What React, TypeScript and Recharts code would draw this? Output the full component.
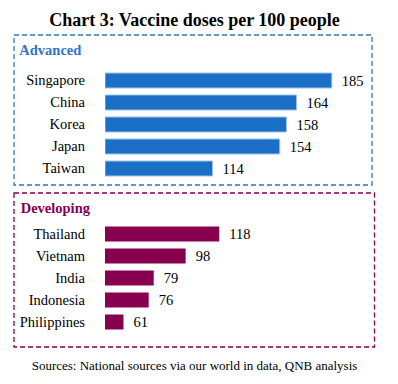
import { Bar, BarChart, LabelList, XAxis, YAxis } from "recharts";

const advancedCountries = ["Singapore", "China", "Korea", "Japan", "Taiwan"];
const advancedDoses = [185, 164, 158, 154, 114];

const developingCountries = ["Thailand", "Vietnam", "India", "Indonesia", "Philippines"];
const developingDoses = [118, 98, 79, 76, 61];

const axisDomain = [50, 200];

const SERIF = "'Liberation Serif', 'Times New Roman', serif";
const BLUE = "#1b6fc6";
const PURPLE = "#870050";

const labelStyle = { fontFamily: SERIF, fontSize: 14.5 };

function CountryTick(props: any) {
  const { x, y, payload } = props;
  return (
    <text x={x - 12} y={y} dy="0.35em" textAnchor="end" fill="#000" style={labelStyle}>
      {payload.value}
    </text>
  );
}

function ValueLabel(props: any) {
  const { x, y, width, height, value } = props;
  return (
    <text x={x + width + 10} y={y + height / 2} dy="0.35em" fill="#000" style={labelStyle}>
      {value}
    </text>
  );
}

function Panel({
  countries,
  doses,
  color,
  stroke,
  top,
  height,
  marginTop,
  marginBottom,
}: {
  countries: string[];
  doses: number[];
  color: string;
  stroke?: string;
  top: number;
  height: number;
  marginTop: number;
  marginBottom: number;
}) {
  const rows = countries.map((name, i) => ({ name, value: doses[i] }));
  return (
    <div style={{ position: "absolute", left: 0, top }}>
      <BarChart
        width={398}
        height={height}
        data={rows}
        layout="vertical"
        margin={{ top: marginTop, bottom: marginBottom, left: 0, right: 41 }}
        style={{ fontFamily: SERIF }}
      >
        <XAxis type="number" domain={axisDomain} hide allowDataOverflow />
        <YAxis
          type="category"
          dataKey="name"
          width={105}
          axisLine={false}
          tickLine={false}
          interval={0}
          tick={<CountryTick />}
        />
        <Bar
          dataKey="value"
          fill={color}
          stroke={stroke}
          strokeWidth={stroke ? 1 : 0}
          barSize={15}
          isAnimationActive={false}
        >
          <LabelList dataKey="value" content={<ValueLabel />} />
        </Bar>
      </BarChart>
    </div>
  );
}

export default function App() {
  return (
    <div
      style={{
        position: "absolute",
        left: 0,
        top: 0,
        width: 398,
        height: 384,
        background: "#fff",
        fontFamily: SERIF,
      }}
    >
      <Panel
        countries={advancedCountries}
        doses={advancedDoses}
        color={BLUE}
        stroke="#9fc0e6"
        top={0}
        height={190}
        marginTop={69}
        marginBottom={11}
      />
      <Panel
        countries={developingCountries}
        doses={developingDoses}
        color={PURPLE}
        top={190}
        height={160}
        marginTop={32.5}
        marginBottom={17.5}
      />
      <svg
        width={398}
        height={384}
        style={{ position: "absolute", left: 0, top: 0, pointerEvents: "none" }}
      >
        <text
          x={194.5}
          y={25.5}
          textAnchor="middle"
          fontFamily={SERIF}
          fontWeight="bold"
          fontSize={18}
          fill="#000"
        >
          Chart 3: Vaccine doses per 100 people
        </text>
        <rect
          x={14}
          y={35}
          width={358}
          height={150}
          fill="none"
          stroke="#2e75c6"
          strokeWidth={1.3}
          strokeDasharray="5 3"
        />
        <text x={19.3} y={55} fontFamily={SERIF} fontWeight="bold" fontSize={14.5} fill="#2e75c6">
          Advanced
        </text>
        <rect
          x={14}
          y={193}
          width={360.5}
          height={154}
          fill="none"
          stroke="#870050"
          strokeWidth={1.3}
          strokeDasharray="5 3"
        />
        <text x={20.7} y={212.5} fontFamily={SERIF} fontWeight="bold" fontSize={14.5} fill="#870050">
          Developing
        </text>
        <text x={194.5} y={370} textAnchor="middle" fontFamily={SERIF} fontSize={13} fill="#000">
          Sources: National sources via our world in data, QNB analysis
        </text>
      </svg>
    </div>
  );
}
